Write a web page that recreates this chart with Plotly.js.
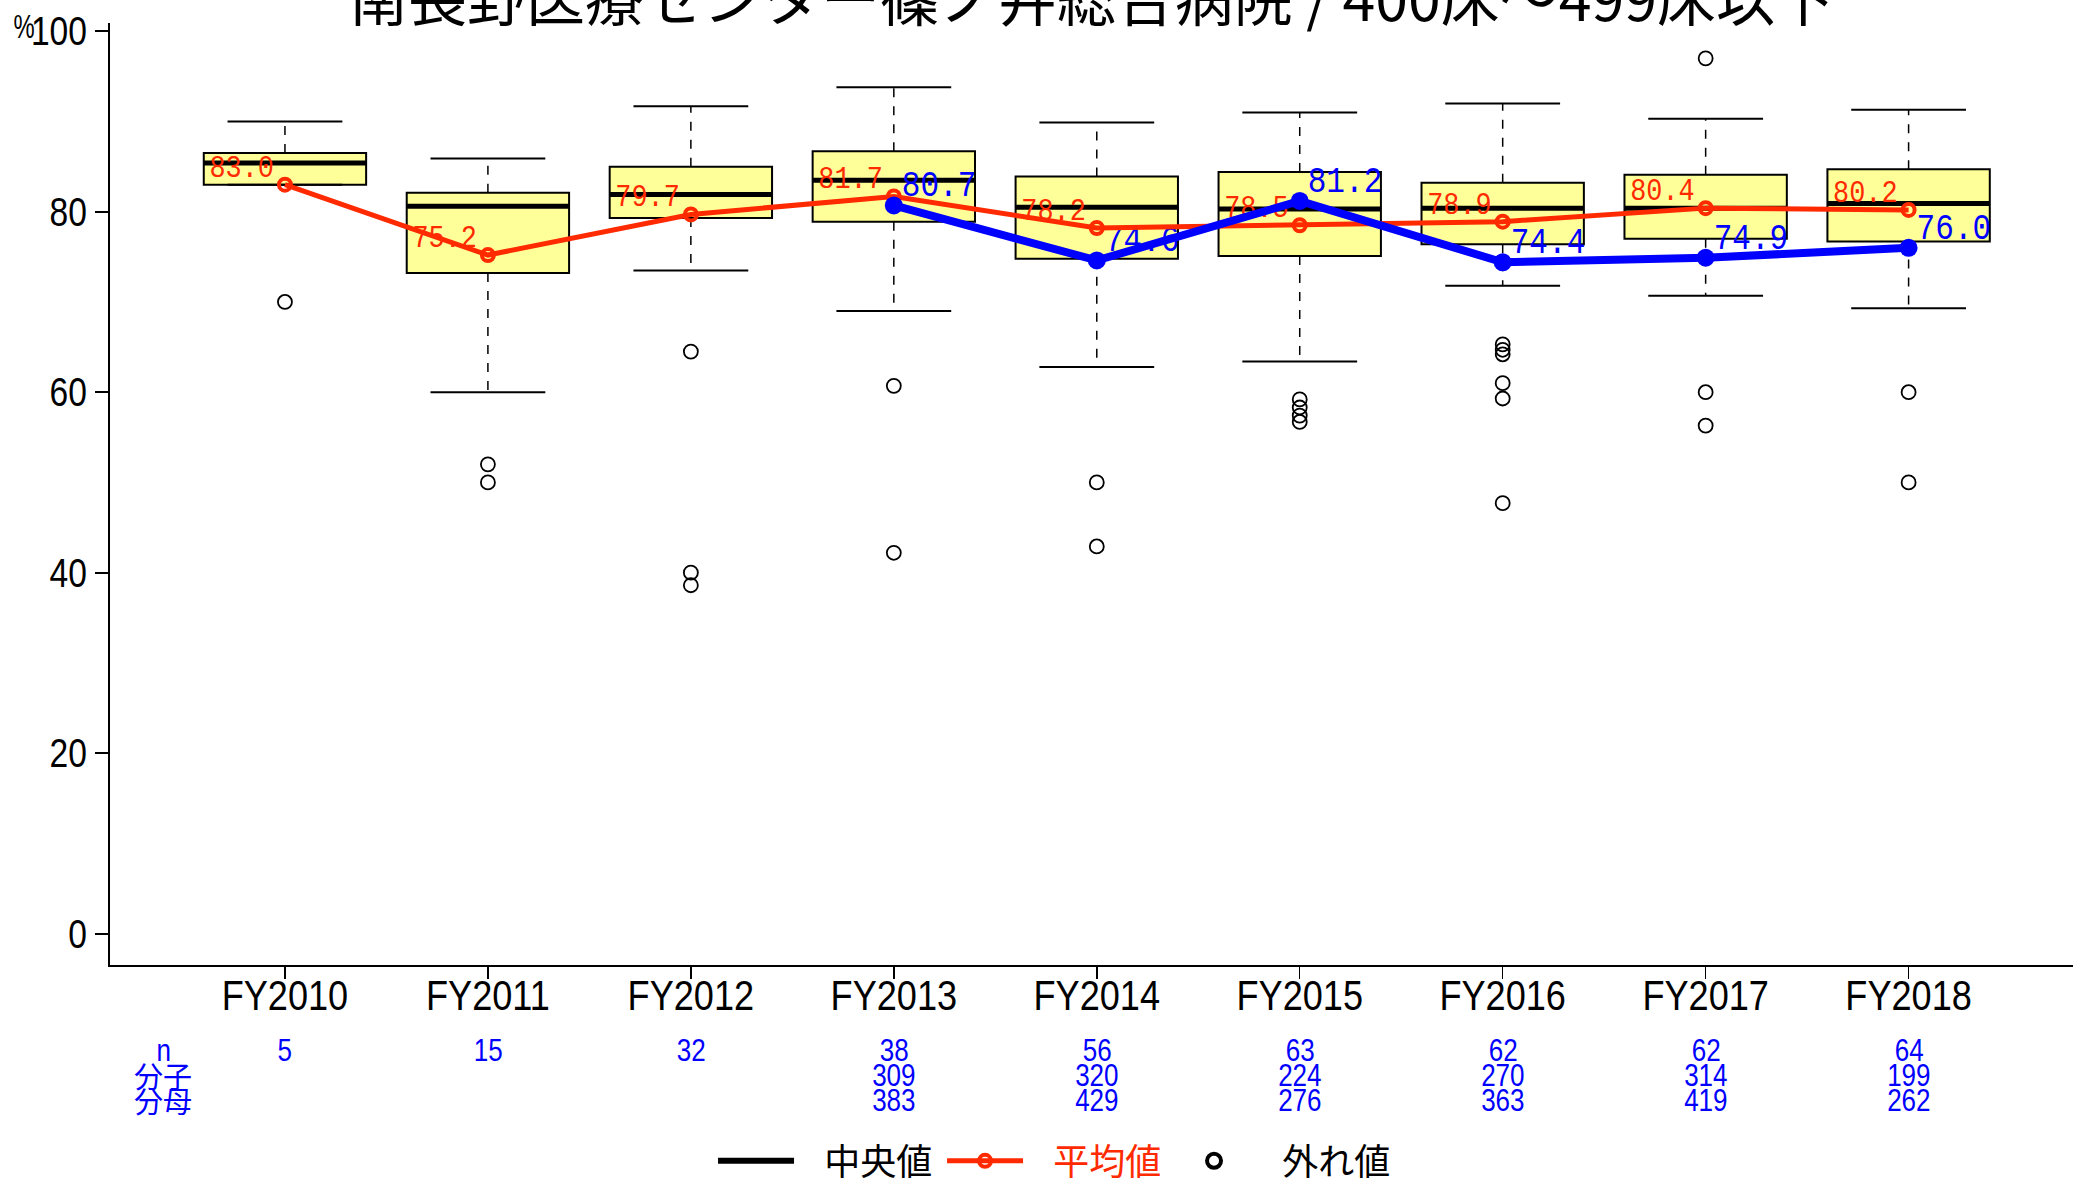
<!DOCTYPE html>
<html><head><meta charset="utf-8">
<script src="https://cdn.plot.ly/plotly-3.0.1.min.js"></script>
<style>html,body{margin:0;padding:0;background:#fff;} #chart{width:2073px;height:1184px;}</style>
</head><body><div id="chart"></div>
<script>
// ---- data ----
const years = ['FY2010','FY2011','FY2012','FY2013','FY2014','FY2015','FY2016','FY2017','FY2018'];
const q1 = [83.0, 73.2, 79.3, 78.9, 74.8, 75.1, 76.4, 77.0, 76.7];
const medians = [85.4, 80.6, 81.9, 83.5, 80.5, 80.3, 80.4, 80.4, 80.9];
const q3 = [86.5, 82.1, 85.0, 86.7, 83.9, 84.4, 83.2, 84.1, 84.7];
const lowerWhisker = [83.0, 60.0, 73.5, 69.0, 62.8, 63.4, 71.8, 70.7, 69.3];
const upperWhisker = [90.0, 85.9, 91.7, 93.8, 89.9, 91.0, 92.0, 90.3, 91.3];
const outliers = [
  [70.0],
  [52.0, 50.0],
  [64.5, 40.0, 38.6],
  [60.7, 42.2],
  [50.0, 42.9],
  [59.2, 58.3, 57.4, 56.7],
  [65.3, 64.7, 64.2, 61.0, 59.3, 47.7],
  [97.0, 60.0, 56.3],
  [60.0, 50.0]
];
const means = [83.0, 75.2, 79.7, 81.7, 78.2, 78.5, 78.9, 80.4, 80.2];
const hospital = [null, null, null, 80.7, 74.6, 81.2, 74.4, 74.9, 76.0];
const nCount = [5, 15, 32, 38, 56, 63, 62, 62, 64];
const numerators = [null, null, null, 309, 320, 224, 270, 314, 199];
const denominators = [null, null, null, 383, 429, 276, 363, 419, 262];
const titleText = '南長野医療センター篠ノ井総合病院 / 400床～499床以下';
const rowLabels = ['n', '分子', '分母'];
const legendNames = ['中央値', '平均値', '外れ値'];
const yTicks = [0, 20, 40, 60, 80, 100];

// ---- styles ----
const LAT = '"Liberation Sans", Arial, sans-serif';
const CJK = '"Noto Sans CJK JP", "Noto Sans CJK SC", sans-serif';
const MONO = '"Liberation Mono", "DejaVu Sans Mono", monospace';
const RED = '#ff2a00', BLUE = '#0000ff', BOXFILL = '#ffff99';
const LEGPAD = '\u2002\u2009';

const traces = [];
// main boxes
traces.push({
  type: 'box', x: years, q1: q1, median: medians, q3: q3,
  lowerfence: q1, upperfence: q3,
  fillcolor: BOXFILL, line: {color: '#000', width: 2}, width: 0.8, whiskerwidth: 0,
  boxpoints: false, showlegend: false, hoverinfo: 'skip'
});
// thick median line
traces.push({
  type: 'box', x: years, q1: medians, median: medians, q3: medians,
  lowerfence: medians, upperfence: medians,
  fillcolor: 'rgba(0,0,0,0)', line: {color: '#000', width: 5}, width: 0.8, whiskerwidth: 0,
  boxpoints: false, showlegend: false, hoverinfo: 'skip'
});
// dashed whisker stems
const sx = [], sy = [];
years.forEach((yr, i) => {
  sx.push(yr, yr, null, yr, yr, null);
  sy.push(q3[i], upperWhisker[i], null, q1[i], lowerWhisker[i], null);
});
traces.push({type: 'scatter', mode: 'lines', x: sx, y: sy, line: {color: '#000', width: 1.5, dash: 'dash'},
  showlegend: false, hoverinfo: 'skip', connectgaps: false});
// whisker caps
traces.push({type: 'scatter', mode: 'markers', x: years.concat(years), y: upperWhisker.concat(lowerWhisker),
  marker: {symbol: 'line-ew', size: 82, color: '#000', line: {color: '#000', width: 2}},
  showlegend: false, hoverinfo: 'skip'});
// outliers
const ox = [], oy = [];
outliers.forEach((arr, i) => arr.forEach(v => { ox.push(years[i]); oy.push(v); }));
traces.push({type: 'scatter', mode: 'markers', x: ox, y: oy, showlegend: false, hoverinfo: 'skip',
  marker: {symbol: 'circle-open', size: 14, color: '#000', line: {color: '#000', width: 1.8}}});
// legend-only entries
traces.push({type: 'scatter', mode: 'lines', x: [null], y: [null], name: LEGPAD + legendNames[0], legendrank: 1,
  line: {color: '#000', width: 6}});
traces.push({type: 'scatter', mode: 'markers', x: [null], y: [null], name: LEGPAD + legendNames[2], legendrank: 3,
  marker: {symbol: 'circle-open', size: 14, color: '#000', line: {color: '#000', width: 4}}});
// value labels (drawn under the lines)
traces.push({type: 'scatter', mode: 'text', x: years, y: means, text: means.map(v => v.toFixed(1)),
  textposition: 'top left', textfont: {family: MONO, size: 32, color: RED}, showlegend: false, hoverinfo: 'skip'});
traces.push({type: 'scatter', mode: 'text', x: years, y: hospital, text: hospital.map(v => v == null ? '' : v.toFixed(1)),
  textposition: 'top right', textfont: {family: MONO, size: 37, color: BLUE}, showlegend: false, hoverinfo: 'skip'});
// mean line
traces.push({type: 'scatter', mode: 'lines+markers', x: years, y: means,
  name: LEGPAD + '<span style="color:' + RED + '">' + legendNames[1] + '</span>', legendrank: 2,
  line: {color: RED, width: 5},
  marker: {symbol: 'circle-open', size: 12, color: RED, line: {color: RED, width: 4}}});
// hospital line
traces.push({type: 'scatter', mode: 'lines+markers', x: years, y: hospital, showlegend: false,
  line: {color: BLUE, width: 8}, marker: {size: 18, color: BLUE}, hoverinfo: 'skip'});

// annotations: counts table
const annotations = [];
const rows = [nCount, numerators, denominators];
const rowShift = [-85, -110, -135];
rows.forEach((row, r) => {
  row.forEach((v, i) => {
    if (v == null) return;
    annotations.push({xref: 'x', yref: 'paper', x: years[i], y: 0, yanchor: 'middle', yshift: rowShift[r],
      text: String(v), showarrow: false, font: {family: LAT, size: 31, color: BLUE}});
  });
  annotations.push({xref: 'x', yref: 'paper', x: -0.6, y: 0, yanchor: 'middle', yshift: rowShift[r],
    text: rowLabels[r], showarrow: false, font: {family: r === 0 ? LAT : CJK, size: r === 0 ? 31 : 29, color: BLUE}});
});
annotations.push({xref: 'paper', yref: 'paper', x: -0.044, y: 0.997, xanchor: 'center', yanchor: 'middle',
  text: '%', showarrow: false, font: {family: LAT, size: 34, color: '#000'}});

const layout = {
  width: 2073, height: 1184,
  margin: {l: 110, r: 0, t: 23, b: 219, pad: 0, autoexpand: false},
  paper_bgcolor: '#fff', plot_bgcolor: '#fff',
  boxmode: 'overlay',
  title: {text: titleText, font: {family: CJK, size: 59, color: '#000'}, xref: 'paper', x: 0.5, xanchor: 'center',
    yref: 'container', y: 1, yanchor: 'middle'},
  xaxis: {type: 'category', range: [-0.862, 8.81], showgrid: false, zeroline: false,
    showline: true, linecolor: '#000', linewidth: 2, ticks: 'outside', ticklen: 12, tickwidth: 1.5, tickcolor: '#000',
    ticklabelstandoff: -21, tickfont: {family: LAT, size: 43, color: '#000'}},
  yaxis: {range: [-3.49, 100.92], tickvals: yTicks, showgrid: false, zeroline: false,
    showline: true, linecolor: '#000', linewidth: 2, ticks: 'outside', ticklen: 13, tickwidth: 2, tickcolor: '#000',
    ticklabelstandoff: 0, tickfont: {family: LAT, size: 40, color: '#000'}},
  legend: {orientation: 'h', x: 0.3072, xanchor: 'left', y: -0.208, yanchor: 'middle',
    itemwidth: 76, entrywidth: 138, entrywidthmode: 'pixels',
    font: {family: CJK, size: 36, color: '#000'}, bgcolor: 'rgba(0,0,0,0)'},
  showlegend: true,
  annotations: annotations
};

// condense Latin text horizontally, keeping each label's anchor point
function squeeze(el, f, extraDx) {
  const w = el.getComputedTextLength();
  if (!(w > 0)) return;
  const b0 = el.getBBox();
  el.setAttribute('textLength', (w * f).toFixed(2));
  el.setAttribute('lengthAdjust', 'spacingAndGlyphs');
  const b1 = el.getBBox();
  const anchor = el.getAttribute('text-anchor') || getComputedStyle(el).textAnchor || 'start';
  let dx;
  if (anchor === 'end') dx = (b0.x + b0.width) - (b1.x + b1.width);
  else if (anchor === 'middle') dx = (b0.x + b0.width / 2) - (b1.x + b1.width / 2);
  else dx = b0.x - b1.x;
  dx += extraDx || 0;
  const x0 = parseFloat(el.getAttribute('x') || '0');
  el.setAttribute('x', (x0 + dx).toFixed(2));
}
Plotly.newPlot('chart', traces, layout, {staticPlot: true}).then(gd => {
  gd.querySelectorAll('.xtick text, .ytick text').forEach(el => squeeze(el, 0.84));
  gd.querySelectorAll('.textpoint text').forEach(el => {
    const fill = (el.style.fill || '').replace(/\s/g, '');
    const isBlue = fill === 'rgb(0,0,255)';
    squeeze(el, 0.84, isBlue ? 8 : -11);
  });
  gd.querySelectorAll('.annotation-text').forEach(el => {
    if (/^[0-9A-Za-z.%]+$/.test(el.textContent)) squeeze(el, el.textContent === '%' ? 0.7 : 0.84);
  });
});
</script></body></html>
